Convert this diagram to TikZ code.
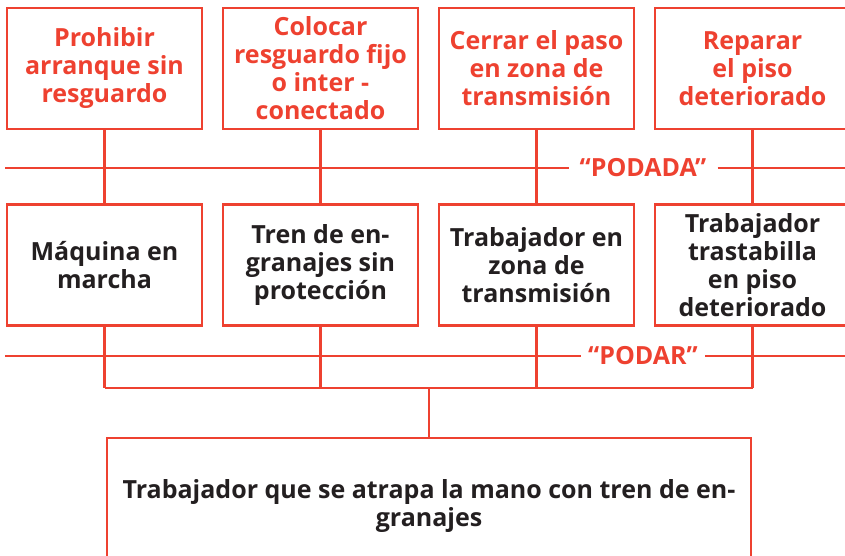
\documentclass[tikz,border=0pt]{standalone}
\usepackage{fontspec}
\setmainfont{Open Sans}
\usetikzlibrary{positioning}
\definecolor{podared}{HTML}{EE4130}
\definecolor{podablack}{HTML}{231F20}
\tikzset{
  x=1pt, y=1pt, % one unit is one pixel of the layout
  node distance=216pt, % centre to centre along a row
  every node/.style={font=\fontsize{25}{28}\selectfont\bfseries, align=center},
  box/.style={draw=podared, line width=2.6pt, minimum width=195pt, minimum height=121pt, inner sep=0pt},
  action/.style={box, text=podared}, % the upper row of measures
  event/.style={box, text=podablack}, % the lower row of events
  wire/.style={draw=podared, line width=2.4pt},
  tag/.style={text=podared, inner sep=8pt},
}

\begin{document}
\begin{tikzpicture}[on grid]
  \useasboundingbox (0,0) rectangle (845,-555);
  \clip (0,0) rectangle (845,-555);

  % measures
  \node[action] (a1) at (104.5,-68.5) {Prohibir\\arranque sin\\resguardo};
  \node[action, right=of a1] (a2) {Colocar\\resguardo fijo\\o inter -\\conectado};
  \node[action, right=of a2] (a3) {Cerrar el paso\\en zona de\\transmisión};
  \node[action, right=of a3] (a4) {Reparar\\el piso\\deteriorado};

  % events
  \node[event, below=196.5pt of a1] (b1) {Máquina en\\marcha};
  \node[event, right=of b1] (b2) {Tren de en-\\granajes sin\\protección};
  \node[event, right=of b2] (b3) {Trabajador en\\zona de\\transmisión};
  \node[event, right=of b3] (b4) {Trabajador\\trastabilla\\en piso\\deteriorado};

  % top event
  \node[event, minimum width=644pt, minimum height=136pt] (c) at (429,-506)
    {Trabajador que se atrapa la mano con tren de en-\\granajes};

  % cut lines
  \node[tag, inner xsep=11pt] (podada) at (643,-168) {“PODADA”};
  \node[tag, inner xsep=7pt] (podar) at (643,-356) {“PODAR”};
  \coordinate (l1) at (5,-168);
  \coordinate (r1) at (845,-168);
  \coordinate (l2) at (5,-356);
  \coordinate (r2) at (845,-356);

  \foreach \i in {1,...,4} {
    \draw[wire] (a\i.south) -- (b\i.north);
    \draw[wire] (b\i.south) -- (b\i.south |- 0,-388);
  }
  \draw[wire] (b1.south |- 0,-388) -- (b4.south |- 0,-388);
  \draw[wire] (c.north |- 0,-388) -- (c.north);

  \draw[wire] (l1) -- (podada.west);
  \draw[wire] (podada.east) -- (r1);
  \draw[wire] (l2) -- (podar.west);
  \draw[wire] (podar.east) -- (r2);
\end{tikzpicture}
\end{document}
